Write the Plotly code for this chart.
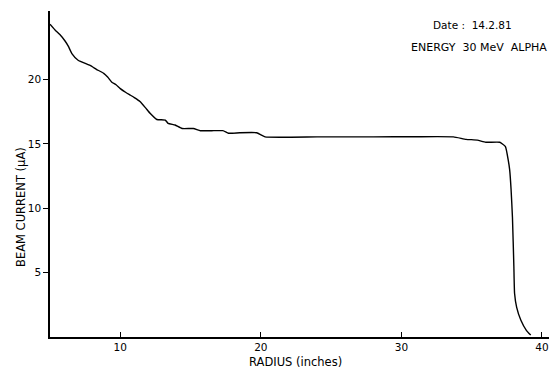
import plotly.graph_objects as go

radius = [5.0, 5.36, 5.7, 6.07, 6.3, 6.57, 7.0, 7.85, 8.3, 8.8, 9.1, 9.4, 9.7, 10.0, 10.4, 10.7,
          11.0, 11.4, 11.8, 12.12, 12.6, 13.2, 13.4, 13.9, 14.4, 15.2, 15.7, 16.5, 17.3, 17.7,
          18.5, 19.7, 20.3, 24.0, 28.0, 31.0, 33.7, 34.6, 35.4, 36.0, 37.0, 37.4, 37.6, 37.7,
          37.8, 37.9, 38.0, 38.05, 38.2, 38.5, 38.9, 39.2]
current = [24.3, 23.85, 23.5, 23.0, 22.6, 22.0, 21.5, 21.1, 20.8, 20.5, 20.2, 19.8, 19.6, 19.3,
           19.0, 18.8, 18.6, 18.3, 17.8, 17.38, 16.9, 16.86, 16.6, 16.47, 16.2, 16.2, 16.03, 16.03,
           16.03, 15.83, 15.87, 15.87, 15.55, 15.55, 15.55, 15.56, 15.55, 15.36, 15.3, 15.13, 15.13,
           14.8, 13.75, 13.0, 11.5, 9.3, 5.5, 3.4, 2.3, 1.3, 0.5, 0.15]

x_ticks = [10, 20, 30, 40]
y_ticks = [5, 10, 15, 20]

font_family = "DejaVu Sans"

L, R, T, B = 50, 0, 11, 34
W, H = 549, 371
pw, ph = W - L - R, H - T - B

def px(x):
    return (x - L) / pw

def py(y):
    return 1 - (y - T) / ph

fig = go.Figure()
fig.add_trace(go.Scatter(x=radius, y=current, mode="lines",
                         line=dict(color="black", width=1.4, shape="spline", smoothing=0.4),
                         showlegend=False, hoverinfo="skip"))

fig.update_layout(
    width=W, height=H,
    margin=dict(l=L, r=R, t=T, b=B, autoexpand=False),
    paper_bgcolor="white", plot_bgcolor="white",
    font=dict(family=font_family, color="black", size=10),
    xaxis=dict(range=[5, 40.5], tickvals=x_ticks, ticktext=[str(v) for v in x_ticks],
               ticks="inside", ticklen=5, tickcolor="black", showgrid=False, zeroline=False,
               showline=True, linecolor="black", linewidth=1.5, automargin=False,
               tickfont=dict(size=10.5)),
    yaxis=dict(range=[0, 25.33], tickvals=y_ticks, ticktext=[str(v) for v in y_ticks],
               ticks="outside", ticklen=5, tickcolor="black", showgrid=False, zeroline=False,
               showline=True, linecolor="black", linewidth=1.5, automargin=False,
               tickfont=dict(size=10.5)),
    annotations=[
        dict(text="Date :  14.2.81", x=px(514), y=py(25), xref="paper", yref="paper",
             showarrow=False, xanchor="right", yanchor="middle", font=dict(size=10.5)),
        dict(text="ENERGY  30 MeV  ALPHA", x=px(549), y=py(47), xref="paper", yref="paper",
             showarrow=False, xanchor="right", yanchor="middle", font=dict(size=11)),
        dict(text="RADIUS (inches)", x=px(295), y=py(362), xref="paper", yref="paper",
             showarrow=False, xanchor="center", yanchor="middle", font=dict(size=11.5)),
        dict(text="BEAM CURRENT (\u03bcA)", x=px(21), y=py(207), xref="paper", yref="paper",
             showarrow=False, xanchor="center", yanchor="middle", textangle=-90,
             font=dict(size=11.5)),
    ],
)

fig.write_html("out.html", config={"displayModeBar": False},
               post_script="document.body.style.margin='0';document.body.style.overflow='hidden';")
